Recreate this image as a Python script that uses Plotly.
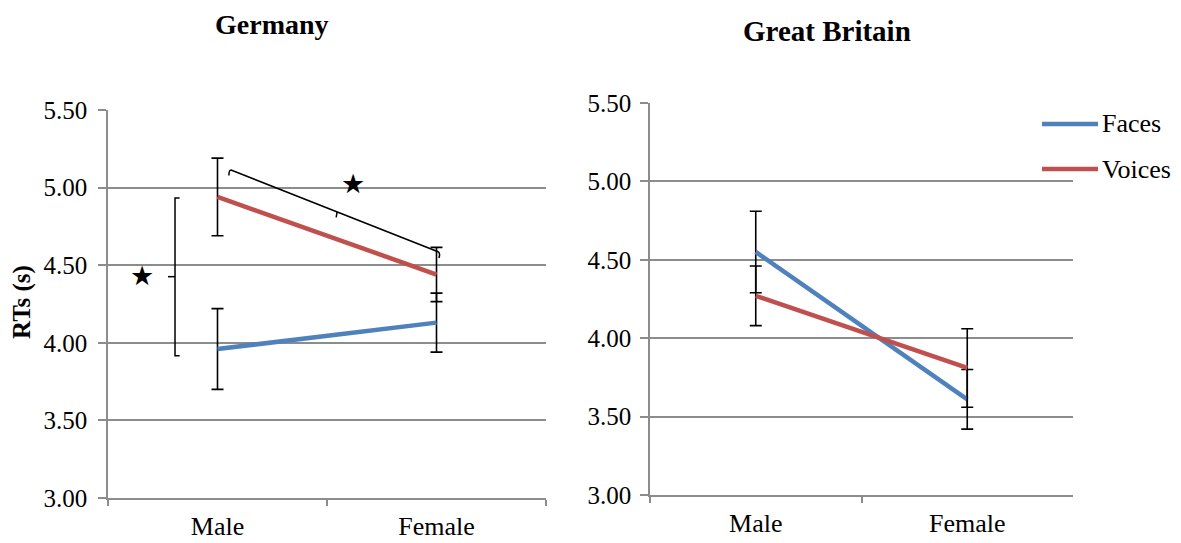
import plotly.graph_objects as go

W, H = 1181, 543
categories = ["Male", "Female"]
series_names = ["Faces", "Voices"]

# Germany
de_faces = [3.96, 4.13]
de_faces_err = [0.26, 0.19]
de_voices = [4.94, 4.44]
de_voices_err = [0.25, 0.175]

# Great Britain
gb_faces = [4.55, 3.61]
gb_faces_err = [0.26, 0.19]
gb_voices = [4.27, 3.81]
gb_voices_err = [0.19, 0.25]

y_ticks = [3.0, 3.5, 4.0, 4.5, 5.0, 5.5]

FACES_C = "#4F81BD"
VOICES_C = "#C0504D"
GRID_C = "#8c8c8c"
FONT = "Liberation Serif"

def px_x(p):
    return p / W

def px_y(p):
    return 1 - p / H

fig = go.Figure()

def add_pair(xa, ya, faces, ferr, voices, verr):
    fig.add_trace(go.Scatter(
        x=categories, y=faces, mode="lines", name=series_names[0],
        line=dict(color=FACES_C, width=4.5), showlegend=False,
        error_y=dict(type="data", array=ferr, color="black", thickness=1.6, width=6),
        xaxis=xa, yaxis=ya))
    fig.add_trace(go.Scatter(
        x=categories, y=voices, mode="lines", name=series_names[1],
        line=dict(color=VOICES_C, width=4.5), showlegend=False,
        error_y=dict(type="data", array=verr, color="black", thickness=1.6, width=6),
        xaxis=xa, yaxis=ya))

add_pair("x", "y", de_faces, de_faces_err, de_voices, de_voices_err)
add_pair("x2", "y2", gb_faces, gb_faces_err, gb_voices, gb_voices_err)

annotations = []

# significance stars (Germany panel), category-index coordinates
star_pos = [(-0.345, 4.435), (0.619, 5.025)]
for sx, sy in star_pos:
    annotations.append(dict(text="★", x=sx, y=sy, xref="x", yref="y", showarrow=False,
                            xanchor="center", yanchor="middle",
                            font=dict(family="DejaVu Sans", size=27, color="black")))

# brackets
br_x, br_cap, br_mid = -0.194, -0.173, -0.226
br_y0, br_y1, br_ym = 3.917, 4.933, 4.426
fig.add_shape(type="path", xref="x", yref="y",
              path=f"M {br_cap},{br_y1} L {br_x},{br_y1} L {br_x},{br_y0} L {br_cap},{br_y0}",
              line=dict(color="black", width=1.5))
fig.add_shape(type="line", xref="x", yref="y", x0=br_x, x1=br_mid, y0=br_ym, y1=br_ym,
              line=dict(color="black", width=1.5))

d_x0, d_y0, d_x1, d_y1 = 0.062, 5.113, 1.007, 4.587
fig.add_shape(type="path", xref="x", yref="y",
              path=(f"M {d_x0 - 0.01},{d_y0 - 0.035} Q {d_x0 - 0.01},{d_y0} {d_x0},{d_y0} "
                    f"L {d_x1},{d_y1} Q {d_x1 + 0.012},{d_y1 - 0.01} {d_x1 + 0.004},{d_y1 - 0.04}"),
              line=dict(color="black", width=1.5))
m_x = 0.546
m_y = d_y0 + (m_x - d_x0) / (d_x1 - d_x0) * (d_y1 - d_y0)
fig.add_shape(type="line", xref="x", yref="y", x0=m_x, x1=m_x - 0.004, y0=m_y, y1=m_y - 0.035,
              line=dict(color="black", width=1.5))

# legend (drawn Excel-style, overlapping right panel)
leg_colors = [FACES_C, VOICES_C]
leg_y = [124, 169]
for name, col, ly in zip(series_names, leg_colors, leg_y):
    fig.add_shape(type="line", xref="paper", yref="paper",
                  x0=px_x(1042), x1=px_x(1098), y0=px_y(ly), y1=px_y(ly),
                  line=dict(color=col, width=4.5))
    annotations.append(dict(text=name, x=px_x(1100), y=px_y(ly), xref="paper", yref="paper",
                            showarrow=False, xanchor="left", yanchor="middle",
                            font=dict(family=FONT, size=26, color="black")))

annotations += [
    dict(text="<b>Germany</b>", x=px_x(272), y=px_y(25), xref="paper", yref="paper",
         xanchor="center", yanchor="middle",
         showarrow=False, font=dict(family=FONT, size=28, color="black")),
    dict(text="<b>Great Britain</b>", x=px_x(827), y=px_y(31), xref="paper", yref="paper",
         xanchor="center", yanchor="middle",
         showarrow=False, font=dict(family=FONT, size=29, color="black")),
    dict(text="<b>RTs (s)</b>", x=px_x(22), y=px_y(302), xref="paper", yref="paper",
         xanchor="center", yanchor="middle",
         showarrow=False, textangle=-90, font=dict(family=FONT, size=25, color="black")),
]

def xaxis_cfg(dom, anchor):
    return dict(domain=dom, anchor=anchor, type="category", range=[-0.5, 1.5],
                showline=True, linecolor=GRID_C, linewidth=1.5, ticks="outside",
                tickson="boundaries", ticklen=6, tickcolor=GRID_C, tickwidth=1.5,
                showgrid=False, automargin=False, ticklabelstandoff=4,
                tickfont=dict(family=FONT, size=26, color="black"))

def yaxis_cfg(dom, anchor, standoff):
    return dict(domain=dom, anchor=anchor, range=[3, 5.5], tickvals=y_ticks,
                tickformat=".2f", showgrid=True, gridcolor=GRID_C, gridwidth=1.5,
                showline=True, linecolor=GRID_C, linewidth=1.5, ticks="outside",
                ticklen=8, tickcolor=GRID_C, tickwidth=1.5, ticklabelstandoff=standoff,
                zeroline=False, automargin=False,
                tickfont=dict(family=FONT, size=25, color="black"))

fig.update_layout(
    width=W, height=H,
    margin=dict(l=0, r=0, t=0, b=0, autoexpand=False),
    paper_bgcolor="white", plot_bgcolor="white",
    font=dict(family=FONT, color="black"),
    xaxis=xaxis_cfg([px_x(108), px_x(546)], "y"),
    yaxis=yaxis_cfg([px_y(498), px_y(110)], "x", 6),
    xaxis2=xaxis_cfg([px_x(650), px_x(1073)], "y2"),
    yaxis2=yaxis_cfg([px_y(495), px_y(103)], "x2", 4),
    showlegend=False,
    annotations=annotations,
)

fig.write_html("out.html")
